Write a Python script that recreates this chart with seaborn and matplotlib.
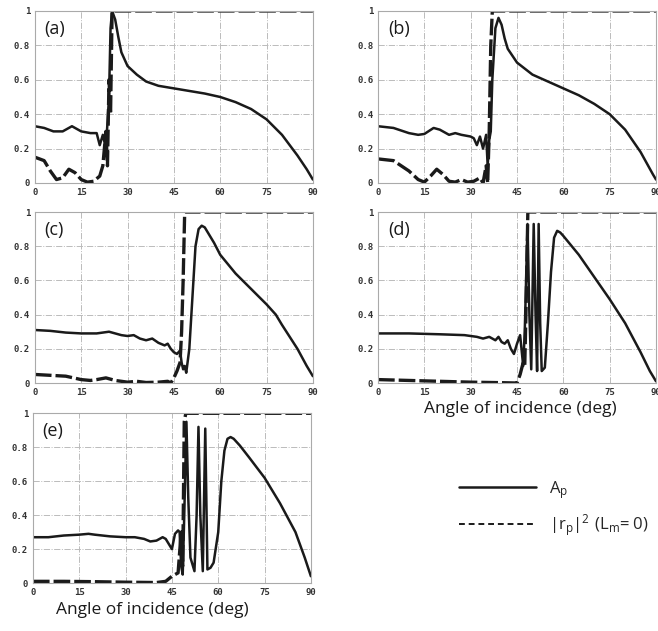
import matplotlib
matplotlib.use('Agg')
import matplotlib.pyplot as plt
import seaborn as sns
import pandas as pd
from matplotlib.lines import Line2D

# values: angle (deg) and value for each curve

# (a)
ang_a_ap = [0, 3, 6, 9, 12, 15, 18, 20, 21, 22, 23, 24, 24.5, 25, 26, 27, 28, 30, 33, 36, 40, 45, 50, 55, 60, 65, 70, 75, 80, 85, 88, 90]
ap_a = [0.33, 0.32, 0.30, 0.30, 0.33, 0.30, 0.29, 0.29, 0.22, 0.28, 0.20, 0.50, 0.90, 1.00, 0.95, 0.85, 0.76, 0.68, 0.63, 0.59, 0.565, 0.55, 0.535, 0.52, 0.50, 0.47, 0.43, 0.37, 0.28, 0.16, 0.08, 0.02]
ang_a_rp = [0, 3, 5, 7, 9, 11, 13, 15, 17, 19, 21, 22, 23, 23.5, 24, 24.5, 25, 90]
rp_a = [0.15, 0.13, 0.07, 0.02, 0.03, 0.08, 0.06, 0.02, 0.005, 0.01, 0.04, 0.10, 0.30, 0.10, 0.60, 0.40, 1.0, 1.0]

# (b)
ang_b_ap = [0, 5, 10, 13, 15, 18, 20, 23, 25, 27, 30, 31, 32, 33, 34, 35, 35.5, 36, 36.5, 37, 38, 39, 40, 41, 42, 45, 50, 55, 60, 65, 70, 75, 80, 85, 89, 90]
ap_b = [0.33, 0.32, 0.29, 0.28, 0.285, 0.32, 0.31, 0.28, 0.29, 0.28, 0.27, 0.26, 0.22, 0.27, 0.20, 0.28, 0.10, 0.25, 0.30, 0.60, 0.90, 0.96, 0.92, 0.84, 0.78, 0.70, 0.63, 0.59, 0.55, 0.51, 0.46, 0.40, 0.31, 0.18, 0.05, 0.02]
ang_b_rp = [0, 5, 10, 13, 15, 17, 19, 21, 23, 25, 27, 29, 31, 33, 34, 35, 35.5, 36, 36.5, 37, 90]
rp_b = [0.14, 0.13, 0.07, 0.02, 0.005, 0.04, 0.08, 0.05, 0.01, 0.005, 0.02, 0.005, 0.01, 0.03, 0.0, 0.10, 0.0, 0.30, 0.80, 1.0, 1.0]

# (c)
ang_c_ap = [0, 5, 10, 15, 20, 24, 28, 30, 32, 34, 36, 38, 40, 42, 43, 44, 45, 46, 47, 47.5, 48, 48.5, 49, 50, 51, 52, 53, 54, 55, 56, 58, 60, 65, 70, 75, 78, 80, 85, 88, 90]
ap_c = [0.31, 0.305, 0.295, 0.29, 0.29, 0.30, 0.28, 0.275, 0.28, 0.26, 0.25, 0.26, 0.235, 0.22, 0.23, 0.20, 0.18, 0.17, 0.19, 0.12, 0.08, 0.10, 0.06, 0.20, 0.50, 0.80, 0.90, 0.92, 0.91, 0.88, 0.82, 0.75, 0.64, 0.55, 0.46, 0.40, 0.34, 0.20, 0.10, 0.04]
ang_c_rp = [0, 5, 10, 15, 18, 20, 23, 26, 30, 33, 36, 40, 43, 44, 45, 46, 47, 47.5, 48, 48.5, 90]
rp_c = [0.05, 0.045, 0.04, 0.02, 0.015, 0.02, 0.03, 0.015, 0.005, 0.01, 0.003, 0.005, 0.01, 0.0, 0.03, 0.07, 0.12, 0.30, 0.60, 1.0, 1.0]

# (d)
ang_d_ap = [0, 10, 20, 28, 30, 32, 34, 36, 38, 39, 40, 41, 42, 43, 44, 45, 46, 47, 47.5, 48.4, 49, 49.6, 50.4, 51, 51.5, 52, 52.5, 53, 54, 55, 56, 57, 58, 59, 60, 65, 70, 75, 80, 85, 88, 90]
ap_d = [0.29, 0.29, 0.285, 0.28, 0.275, 0.27, 0.26, 0.27, 0.25, 0.27, 0.24, 0.23, 0.25, 0.20, 0.17, 0.23, 0.28, 0.10, 0.30, 0.93, 0.40, 0.08, 0.93, 0.40, 0.07, 0.93, 0.35, 0.07, 0.09, 0.35, 0.65, 0.85, 0.89, 0.88, 0.86, 0.75, 0.62, 0.49, 0.35, 0.18, 0.07, 0.01]
ang_d_rp = [0, 10, 20, 30, 40, 45, 46, 47, 47.5, 48, 48.5, 90]
rp_d = [0.02, 0.015, 0.01, 0.005, 0.002, 0.0, 0.05, 0.12, 0.10, 0.50, 1.0, 1.0]

# (e)
ang_e_ap = [0, 5, 10, 15, 18, 20, 25, 30, 33, 36, 38, 40, 42, 43, 44, 45, 46, 47, 47.5, 48, 48.5, 49, 49.7, 50.3, 51, 52.3, 53, 53.6, 54.2, 55, 55.8, 56.5, 57.5, 58.5, 60, 61, 62, 63, 64, 65, 67, 70, 75, 80, 85, 88, 90]
ap_e = [0.27, 0.27, 0.28, 0.285, 0.29, 0.285, 0.275, 0.27, 0.27, 0.26, 0.245, 0.25, 0.27, 0.26, 0.23, 0.20, 0.29, 0.31, 0.30, 0.10, 0.05, 0.40, 0.95, 0.50, 0.15, 0.07, 0.40, 0.92, 0.40, 0.07, 0.91, 0.08, 0.09, 0.12, 0.30, 0.60, 0.78, 0.85, 0.86, 0.85, 0.81, 0.74, 0.62, 0.47, 0.30, 0.15, 0.04]
ang_e_rp = [0, 10, 20, 30, 40, 43, 45, 46, 47, 48, 48.5, 49, 49.5, 90]
rp_e = [0.01, 0.01, 0.008, 0.005, 0.003, 0.01, 0.04, 0.05, 0.06, 0.30, 0.10, 0.95, 1.0, 1.0]

panels = [
    ('(a)', ang_a_ap, ap_a, ang_a_rp, rp_a),
    ('(b)', ang_b_ap, ap_b, ang_b_rp, rp_b),
    ('(c)', ang_c_ap, ap_c, ang_c_rp, rp_c),
    ('(d)', ang_d_ap, ap_d, ang_d_rp, rp_d),
    ('(e)', ang_e_ap, ap_e, ang_e_rp, rp_e),
]

x_ticks = [0, 15, 30, 45, 60, 75, 90]
y_ticks = [0, 0.2, 0.4, 0.6, 0.8, 1]
y_tick_labels = ['0', '0.2', '0.4', '0.6', '0.8', '1']

sns.set_style('white')
plt.rcParams['font.family'] = ['Open Sans', 'DejaVu Sans']

fig = plt.figure(figsize=(6.58, 6.31), dpi=100)

# axes boxes [left, bottom, width, height] in figure fractions
boxes = [
    [0.053, 0.710, 0.4225, 0.2726],
    [0.5745, 0.710, 0.4225, 0.2726],
    [0.053, 0.393, 0.4225, 0.271],
    [0.5745, 0.393, 0.4225, 0.271],
    [0.050, 0.076, 0.4225, 0.269],
]

for (label, xa, ya, xr, yr), box in zip(panels, boxes):
    ax = fig.add_axes(box)
    ap_df = pd.DataFrame({'angle': xa, 'value': ya})
    rp_df = pd.DataFrame({'angle': xr, 'value': yr})
    sns.lineplot(data=ap_df, x='angle', y='value', ax=ax, color='#1a1a1a',
                 linewidth=1.8, estimator=None, sort=False)
    sns.lineplot(data=rp_df, x='angle', y='value', ax=ax, color='#1a1a1a',
                 linewidth=2.4, estimator=None, sort=False)
    ax.lines[-1].set_dashes([5, 1.2])
    ax.set_xlim(0, 90)
    ax.set_ylim(0, 1)
    ax.set_xticks(x_ticks)
    ax.set_yticks(y_ticks)
    ax.set_xticklabels([str(t) for t in x_ticks], family='DejaVu Sans Mono',
                       fontsize=6.5, fontweight='bold', color='#333333')
    ax.set_yticklabels(y_tick_labels, family='DejaVu Sans Mono',
                       fontsize=6.5, fontweight='bold', color='#333333')
    ax.tick_params(length=2, pad=1.5, color='#999999')
    ax.grid(True, color='#bbbbbb', linestyle='-.', linewidth=0.7)
    for sp in ax.spines.values():
        sp.set_color('#aaaaaa')
        sp.set_linewidth(0.8)
    ax.set_xlabel('')
    ax.set_ylabel('')
    ax.text(0.035, 0.95, label, transform=ax.transAxes, fontsize=13,
            va='top', ha='left', color='#1a1a1a')

fig.text(0.232, 0.033, 'Angle of incidence (deg)', fontsize=12.5,
         ha='center', va='center', color='#1a1a1a')
fig.text(0.79, 0.352, 'Angle of incidence (deg)', fontsize=12.5,
         ha='center', va='center', color='#1a1a1a')

handles = [
    Line2D([], [], color='#1a1a1a', linewidth=1.8),
    Line2D([], [], color='#1a1a1a', linewidth=1.4, dashes=[3, 2]),
]
labels = [r'$\mathregular{A_p}$', r'$\mathregular{|r_p|^2\ (L_m\!= 0)}$']
fig.legend(handles, labels, loc='upper left', bbox_to_anchor=(0.675, 0.265),
           frameon=False, fontsize=12, handlelength=4.6, labelspacing=0.7)

fig.savefig('out.png', dpi=100)
